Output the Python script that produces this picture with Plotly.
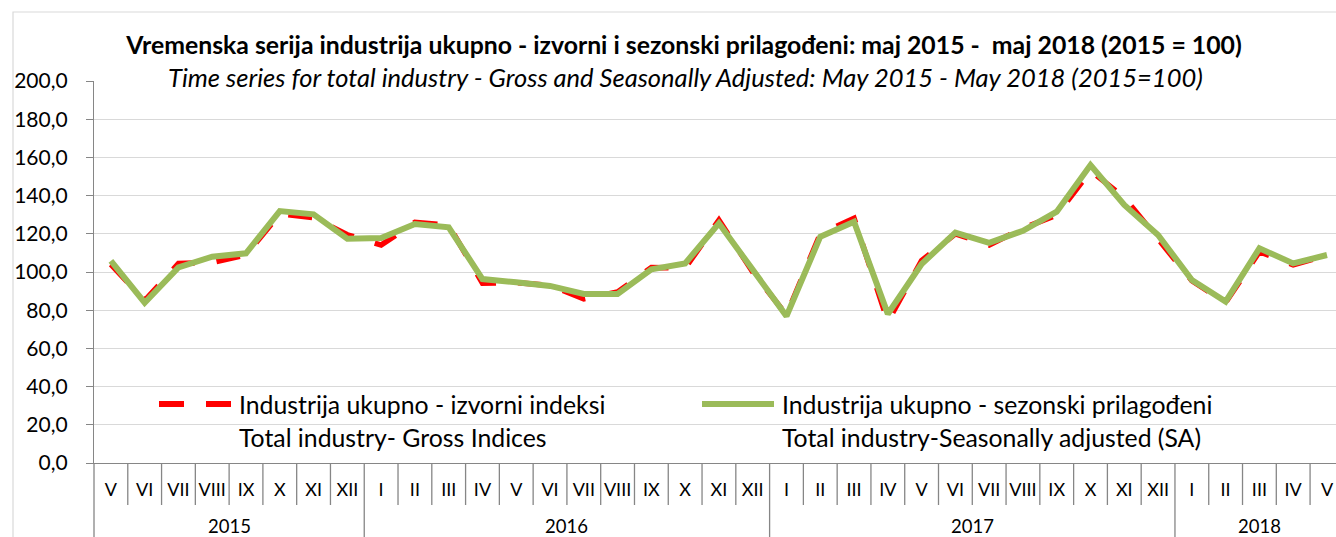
import plotly.graph_objects as go

months = ["V", "VI", "VII", "VIII", "IX", "X", "XI", "XII",
          "I", "II", "III", "IV", "V", "VI", "VII", "VIII", "IX", "X", "XI", "XII",
          "I", "II", "III", "IV", "V", "VI", "VII", "VIII", "IX", "X", "XI", "XII",
          "I", "II", "III", "IV", "V"]
years = ["2015", "2016", "2017", "2018"]
year_start = [0, 8, 20, 32]
year_end = [7, 19, 31, 36]

gross = [104.0, 85.0, 104.5, 105.0, 109.0, 130.5, 128.5, 119.5, 114.1, 126.0,
         124.5, 94.1, 94.5, 93.0, 85.9, 89.5, 102.4, 102.0, 127.2, 100.0,
         77.5, 120.0, 128.1, 74.0, 106.0, 120.0, 114.1, 122.9, 129.8, 153.0,
         139.0, 117.0, 95.5, 84.0, 110.6, 103.7, 108.9]
sa = [105.8, 83.9, 102.4, 108.0, 109.8, 131.9, 130.2, 117.4, 117.8, 125.1,
      123.4, 96.3, 94.6, 92.7, 88.5, 88.5, 101.4, 104.5, 125.5, 101.0,
      76.9, 118.5, 126.3, 78.0, 104.2, 120.6, 115.3, 121.6, 131.6, 156.0,
      135.1, 119.4, 95.8, 84.5, 112.4, 104.5, 108.9]

name_gross = "Industrija ukupno - izvorni indeksi"
name_gross_en = "Total industry- Gross Indices"
name_sa = "Industrija ukupno - sezonski prilagođeni"
name_sa_en = "Total industry-Seasonally adjusted (SA)"
title = "Vremenska serija industrija ukupno - izvorni i sezonski prilagođeni: maj 2015 -  maj 2018 (2015 = 100)"
subtitle = "Time series for total industry - Gross and Seasonally Adjusted: May 2015 - May 2018 (2015=100)"

RED = "#ff0000"
GREEN = "#9bbb59"
AXIS = "#868686"
GRID = "#d9d9d9"
FONT = "Lato"

W, H = 1336, 537
L, R, T, B = 94, 0, 81, 74
PW = W - L - R
PH = H - T - B

def px_x(p):
    return (p - L) / PW

def px_y(p):
    return (H - B - p) / PH

x = list(range(len(months)))

fig = go.Figure()
fig.add_trace(go.Scatter(x=x, y=gross, mode="lines", name=name_gross,
                         line=dict(color=RED, width=5.5, dash="24px,22px"),
                         showlegend=False))
fig.add_trace(go.Scatter(x=x, y=sa, mode="lines", name=name_sa,
                         line=dict(color=GREEN, width=6),
                         showlegend=False))

shapes = []
# chart frame
shapes.append(dict(type="rect", xref="paper", yref="paper",
                   x0=px_x(13), x1=px_x(1400), y0=px_y(600), y1=px_y(12),
                   line=dict(color=GRID, width=1.2), fillcolor="rgba(0,0,0,0)", layer="below"))
# month separators
for k in range(1, len(months) + 1):
    is_year = k in year_start
    shapes.append(dict(type="line", xref="x", yref="paper",
                       x0=k - 0.5, x1=k - 0.5, y0=0,
                       y1=px_y(560) if is_year else px_y(505),
                       line=dict(color=AXIS, width=1.3)))
# y-axis continuation to the bottom
shapes.append(dict(type="line", xref="paper", yref="paper",
                   x0=0, x1=0, y0=0, y1=px_y(560),
                   line=dict(color=AXIS, width=1.3)))

# custom legend symbols
shapes.append(dict(type="line", xref="paper", yref="paper",
                   x0=px_x(159), x1=px_x(231), y0=px_y(404), y1=px_y(404),
                   line=dict(color=RED, width=6, dash="25px,22px")))
shapes.append(dict(type="line", xref="paper", yref="paper",
                   x0=px_x(702), x1=px_x(774), y0=px_y(404), y1=px_y(404),
                   line=dict(color=GREEN, width=6)))

annotations = []
for yr, s, e in zip(years, year_start, year_end):
    annotations.append(dict(text=yr, xref="x", yref="paper",
                            x=(s + e) / 2, y=px_y(526), showarrow=False,
                            xanchor="center", yanchor="middle",
                            font=dict(family=FONT, size=18.5, color="#000")))
# legend text
for xx, t1, t2 in [(237, name_gross, name_gross_en), (780, name_sa, name_sa_en)]:
    annotations.append(dict(text=t1, xref="paper", yref="paper", x=px_x(xx), y=px_y(404),
                            showarrow=False, xanchor="left", yanchor="middle",
                            font=dict(family=FONT, size=24.8, color="#000")))
    annotations.append(dict(text=t2, xref="paper", yref="paper", x=px_x(xx), y=px_y(437),
                            showarrow=False, xanchor="left", yanchor="middle",
                            font=dict(family=FONT, size=24.8, color="#000")))
# subtitle
annotations.append(dict(text="<i>" + subtitle + "</i>", xref="paper", yref="paper",
                        x=px_x(685.5), y=px_y(77), showarrow=False,
                        xanchor="center", yanchor="middle",
                        font=dict(family=FONT, size=25.5, color="#000")))

fig.update_layout(
    width=W, height=H,
    margin=dict(l=L, r=R, t=T, b=B, pad=0),
    paper_bgcolor="white", plot_bgcolor="white",
    title=dict(text="<b>" + title + "</b>", xref="container", yref="container",
               x=684 / W, y=1 - 45 / H, xanchor="center", yanchor="middle",
               font=dict(family=FONT, size=24.8, color="#000")),
    xaxis=dict(range=[-0.5, -0.5 + PW / 33.78], tickmode="array", tickvals=x, ticktext=months,
               showgrid=False, zeroline=False, showline=True, linecolor=AXIS, linewidth=1.3,
               ticks="", tickfont=dict(family=FONT, size=18, color="#000"),
               ticklabelstandoff=10, fixedrange=True),
    yaxis=dict(range=[0, 200], tickmode="array", tickvals=list(range(0, 201, 20)),
               ticktext=[f"{v},0" for v in range(0, 201, 20)],
               showgrid=True, gridcolor=GRID, gridwidth=1.3, zeroline=False,
               showline=True, linecolor=AXIS, linewidth=1.3,
               ticks="outside", ticklen=7, tickcolor=AXIS, tickwidth=1.3,
               tickfont=dict(family=FONT, size=21, color="#000"),
               ticklabelstandoff=14, fixedrange=True),
    shapes=shapes, annotations=annotations,
    showlegend=False,
)

fig.write_html("out.html")
